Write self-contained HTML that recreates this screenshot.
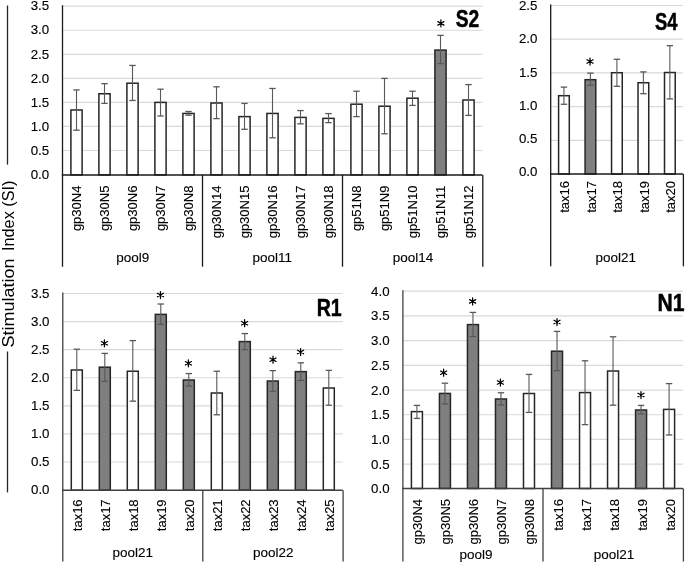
<!DOCTYPE html>
<html><head><meta charset="utf-8"><style>
html,body{margin:0;padding:0;background:#fff;}
svg{display:block;font-family:"Liberation Sans", sans-serif;will-change:transform;}
</style></head><body>
<svg width="685" height="563" viewBox="0 0 685 563">
<rect width="685" height="563" fill="#fff"/>
<line x1="62.50" y1="150.50" x2="482.50" y2="150.50" stroke="#d9d9d9" stroke-width="1.2"/>
<line x1="62.50" y1="126.45" x2="482.50" y2="126.45" stroke="#d9d9d9" stroke-width="1.2"/>
<line x1="62.50" y1="102.40" x2="482.50" y2="102.40" stroke="#d9d9d9" stroke-width="1.2"/>
<line x1="62.50" y1="78.35" x2="482.50" y2="78.35" stroke="#d9d9d9" stroke-width="1.2"/>
<line x1="62.50" y1="54.30" x2="482.50" y2="54.30" stroke="#d9d9d9" stroke-width="1.2"/>
<line x1="62.50" y1="30.25" x2="482.50" y2="30.25" stroke="#d9d9d9" stroke-width="1.2"/>
<line x1="62.50" y1="6.20" x2="482.50" y2="6.20" stroke="#d9d9d9" stroke-width="1.2"/>
<text x="49.20" y="178.75" text-anchor="end" font-size="13.3" fill="#000" stroke="#000" stroke-width="0.12">0.0</text>
<text x="49.20" y="154.70" text-anchor="end" font-size="13.3" fill="#000" stroke="#000" stroke-width="0.12">0.5</text>
<text x="49.20" y="130.65" text-anchor="end" font-size="13.3" fill="#000" stroke="#000" stroke-width="0.12">1.0</text>
<text x="49.20" y="106.60" text-anchor="end" font-size="13.3" fill="#000" stroke="#000" stroke-width="0.12">1.5</text>
<text x="49.20" y="82.55" text-anchor="end" font-size="13.3" fill="#000" stroke="#000" stroke-width="0.12">2.0</text>
<text x="49.20" y="58.50" text-anchor="end" font-size="13.3" fill="#000" stroke="#000" stroke-width="0.12">2.5</text>
<text x="49.20" y="34.45" text-anchor="end" font-size="13.3" fill="#000" stroke="#000" stroke-width="0.12">3.0</text>
<text x="49.20" y="10.40" text-anchor="end" font-size="13.3" fill="#000" stroke="#000" stroke-width="0.12">3.5</text>
<rect x="70.90" y="109.98" width="11.20" height="64.92" fill="#fff" stroke="#262626" stroke-width="1.5"/>
<rect x="98.90" y="93.76" width="11.20" height="81.14" fill="#fff" stroke="#262626" stroke-width="1.5"/>
<rect x="126.90" y="83.20" width="11.20" height="91.70" fill="#fff" stroke="#262626" stroke-width="1.5"/>
<rect x="154.90" y="102.40" width="11.20" height="72.50" fill="#fff" stroke="#262626" stroke-width="1.5"/>
<rect x="182.90" y="113.44" width="11.20" height="61.46" fill="#fff" stroke="#262626" stroke-width="1.5"/>
<rect x="210.90" y="103.00" width="11.20" height="71.90" fill="#fff" stroke="#262626" stroke-width="1.5"/>
<rect x="238.90" y="116.61" width="11.20" height="58.29" fill="#fff" stroke="#262626" stroke-width="1.5"/>
<rect x="266.90" y="113.44" width="11.20" height="61.46" fill="#fff" stroke="#262626" stroke-width="1.5"/>
<rect x="294.90" y="117.40" width="11.20" height="57.50" fill="#fff" stroke="#262626" stroke-width="1.5"/>
<rect x="322.90" y="118.38" width="11.20" height="56.52" fill="#fff" stroke="#262626" stroke-width="1.5"/>
<rect x="350.90" y="104.20" width="11.20" height="70.70" fill="#fff" stroke="#262626" stroke-width="1.5"/>
<rect x="378.90" y="106.24" width="11.20" height="68.66" fill="#fff" stroke="#262626" stroke-width="1.5"/>
<rect x="406.90" y="98.20" width="11.20" height="76.70" fill="#fff" stroke="#262626" stroke-width="1.5"/>
<rect x="434.90" y="50.08" width="11.20" height="124.82" fill="#7f7f7f" stroke="#262626" stroke-width="1.5"/>
<rect x="462.90" y="100.00" width="11.20" height="74.90" fill="#fff" stroke="#262626" stroke-width="1.5"/>
<line x1="76.50" y1="89.92" x2="76.50" y2="130.19" stroke="#595959" stroke-width="1.1"/>
<line x1="73.30" y1="89.92" x2="79.70" y2="89.92" stroke="#595959" stroke-width="1.3"/>
<line x1="73.30" y1="130.19" x2="79.70" y2="130.19" stroke="#595959" stroke-width="1.3"/>
<line x1="104.50" y1="83.68" x2="104.50" y2="103.36" stroke="#595959" stroke-width="1.1"/>
<line x1="101.30" y1="83.68" x2="107.70" y2="83.68" stroke="#595959" stroke-width="1.3"/>
<line x1="101.30" y1="103.36" x2="107.70" y2="103.36" stroke="#595959" stroke-width="1.3"/>
<line x1="132.50" y1="65.44" x2="132.50" y2="100.48" stroke="#595959" stroke-width="1.1"/>
<line x1="129.30" y1="65.44" x2="135.70" y2="65.44" stroke="#595959" stroke-width="1.3"/>
<line x1="129.30" y1="100.48" x2="135.70" y2="100.48" stroke="#595959" stroke-width="1.3"/>
<line x1="160.50" y1="89.20" x2="160.50" y2="115.98" stroke="#595959" stroke-width="1.1"/>
<line x1="157.30" y1="89.20" x2="163.70" y2="89.20" stroke="#595959" stroke-width="1.3"/>
<line x1="157.30" y1="115.98" x2="163.70" y2="115.98" stroke="#595959" stroke-width="1.3"/>
<line x1="188.50" y1="111.52" x2="188.50" y2="115.22" stroke="#595959" stroke-width="1.1"/>
<line x1="185.30" y1="111.52" x2="191.70" y2="111.52" stroke="#595959" stroke-width="1.3"/>
<line x1="185.30" y1="115.22" x2="191.70" y2="115.22" stroke="#595959" stroke-width="1.3"/>
<line x1="216.50" y1="86.80" x2="216.50" y2="118.60" stroke="#595959" stroke-width="1.1"/>
<line x1="213.30" y1="86.80" x2="219.70" y2="86.80" stroke="#595959" stroke-width="1.3"/>
<line x1="213.30" y1="118.60" x2="219.70" y2="118.60" stroke="#595959" stroke-width="1.3"/>
<line x1="244.50" y1="103.41" x2="244.50" y2="129.28" stroke="#595959" stroke-width="1.1"/>
<line x1="241.30" y1="103.41" x2="247.70" y2="103.41" stroke="#595959" stroke-width="1.3"/>
<line x1="241.30" y1="129.28" x2="247.70" y2="129.28" stroke="#595959" stroke-width="1.3"/>
<line x1="272.50" y1="88.48" x2="272.50" y2="137.80" stroke="#595959" stroke-width="1.1"/>
<line x1="269.30" y1="88.48" x2="275.70" y2="88.48" stroke="#595959" stroke-width="1.3"/>
<line x1="269.30" y1="137.80" x2="275.70" y2="137.80" stroke="#595959" stroke-width="1.3"/>
<line x1="300.50" y1="110.56" x2="300.50" y2="123.81" stroke="#595959" stroke-width="1.1"/>
<line x1="297.30" y1="110.56" x2="303.70" y2="110.56" stroke="#595959" stroke-width="1.3"/>
<line x1="297.30" y1="123.81" x2="303.70" y2="123.81" stroke="#595959" stroke-width="1.3"/>
<line x1="328.50" y1="113.58" x2="328.50" y2="122.61" stroke="#595959" stroke-width="1.1"/>
<line x1="325.30" y1="113.58" x2="331.70" y2="113.58" stroke="#595959" stroke-width="1.3"/>
<line x1="325.30" y1="122.61" x2="331.70" y2="122.61" stroke="#595959" stroke-width="1.3"/>
<line x1="356.50" y1="91.22" x2="356.50" y2="116.61" stroke="#595959" stroke-width="1.1"/>
<line x1="353.30" y1="91.22" x2="359.70" y2="91.22" stroke="#595959" stroke-width="1.3"/>
<line x1="353.30" y1="116.61" x2="359.70" y2="116.61" stroke="#595959" stroke-width="1.3"/>
<line x1="384.50" y1="78.40" x2="384.50" y2="133.79" stroke="#595959" stroke-width="1.1"/>
<line x1="381.30" y1="78.40" x2="387.70" y2="78.40" stroke="#595959" stroke-width="1.3"/>
<line x1="381.30" y1="133.79" x2="387.70" y2="133.79" stroke="#595959" stroke-width="1.3"/>
<line x1="412.50" y1="91.22" x2="412.50" y2="105.40" stroke="#595959" stroke-width="1.1"/>
<line x1="409.30" y1="91.22" x2="415.70" y2="91.22" stroke="#595959" stroke-width="1.3"/>
<line x1="409.30" y1="105.40" x2="415.70" y2="105.40" stroke="#595959" stroke-width="1.3"/>
<line x1="440.50" y1="35.39" x2="440.50" y2="63.62" stroke="#595959" stroke-width="1.1"/>
<line x1="437.30" y1="35.39" x2="443.70" y2="35.39" stroke="#595959" stroke-width="1.3"/>
<line x1="437.30" y1="63.62" x2="443.70" y2="63.62" stroke="#595959" stroke-width="1.3"/>
<line x1="468.50" y1="84.59" x2="468.50" y2="115.41" stroke="#595959" stroke-width="1.1"/>
<line x1="465.30" y1="84.59" x2="471.70" y2="84.59" stroke="#595959" stroke-width="1.3"/>
<line x1="465.30" y1="115.41" x2="471.70" y2="115.41" stroke="#595959" stroke-width="1.3"/>
<line x1="62.50" y1="5.30" x2="62.50" y2="266.70" stroke="#1a1a1a" stroke-width="1.3"/>
<line x1="61.85" y1="174.90" x2="482.50" y2="174.90" stroke="#1a1a1a" stroke-width="1.5"/>
<line x1="202.50" y1="174.90" x2="202.50" y2="266.70" stroke="#1a1a1a" stroke-width="1.3"/>
<line x1="342.50" y1="174.90" x2="342.50" y2="266.70" stroke="#1a1a1a" stroke-width="1.3"/>
<line x1="482.80" y1="174.90" x2="482.80" y2="266.70" stroke="#1a1a1a" stroke-width="1.3"/>
<text transform="translate(81.30,185.60) rotate(-90)" text-anchor="end" font-size="13.7" textLength="45.53" lengthAdjust="spacingAndGlyphs" fill="#000" stroke="#000" stroke-width="0.12">gp30N4</text>
<text transform="translate(109.30,185.60) rotate(-90)" text-anchor="end" font-size="13.7" textLength="45.53" lengthAdjust="spacingAndGlyphs" fill="#000" stroke="#000" stroke-width="0.12">gp30N5</text>
<text transform="translate(137.30,185.60) rotate(-90)" text-anchor="end" font-size="13.7" textLength="45.53" lengthAdjust="spacingAndGlyphs" fill="#000" stroke="#000" stroke-width="0.12">gp30N6</text>
<text transform="translate(165.30,185.60) rotate(-90)" text-anchor="end" font-size="13.7" textLength="45.53" lengthAdjust="spacingAndGlyphs" fill="#000" stroke="#000" stroke-width="0.12">gp30N7</text>
<text transform="translate(193.30,185.60) rotate(-90)" text-anchor="end" font-size="13.7" textLength="45.53" lengthAdjust="spacingAndGlyphs" fill="#000" stroke="#000" stroke-width="0.12">gp30N8</text>
<text transform="translate(221.30,185.60) rotate(-90)" text-anchor="end" font-size="13.7" textLength="52.75" lengthAdjust="spacingAndGlyphs" fill="#000" stroke="#000" stroke-width="0.12">gp30N14</text>
<text transform="translate(249.30,185.60) rotate(-90)" text-anchor="end" font-size="13.7" textLength="52.75" lengthAdjust="spacingAndGlyphs" fill="#000" stroke="#000" stroke-width="0.12">gp30N15</text>
<text transform="translate(277.30,185.60) rotate(-90)" text-anchor="end" font-size="13.7" textLength="52.75" lengthAdjust="spacingAndGlyphs" fill="#000" stroke="#000" stroke-width="0.12">gp30N16</text>
<text transform="translate(305.30,185.60) rotate(-90)" text-anchor="end" font-size="13.7" textLength="52.75" lengthAdjust="spacingAndGlyphs" fill="#000" stroke="#000" stroke-width="0.12">gp30N17</text>
<text transform="translate(333.30,185.60) rotate(-90)" text-anchor="end" font-size="13.7" textLength="52.75" lengthAdjust="spacingAndGlyphs" fill="#000" stroke="#000" stroke-width="0.12">gp30N18</text>
<text transform="translate(361.30,185.60) rotate(-90)" text-anchor="end" font-size="13.7" textLength="45.53" lengthAdjust="spacingAndGlyphs" fill="#000" stroke="#000" stroke-width="0.12">gp51N8</text>
<text transform="translate(389.30,185.60) rotate(-90)" text-anchor="end" font-size="13.7" textLength="45.53" lengthAdjust="spacingAndGlyphs" fill="#000" stroke="#000" stroke-width="0.12">gp51N9</text>
<text transform="translate(417.30,185.60) rotate(-90)" text-anchor="end" font-size="13.7" textLength="52.75" lengthAdjust="spacingAndGlyphs" fill="#000" stroke="#000" stroke-width="0.12">gp51N10</text>
<text transform="translate(445.30,185.60) rotate(-90)" text-anchor="end" font-size="13.7" textLength="52.75" lengthAdjust="spacingAndGlyphs" fill="#000" stroke="#000" stroke-width="0.12">gp51N11</text>
<text transform="translate(473.30,185.60) rotate(-90)" text-anchor="end" font-size="13.7" textLength="52.75" lengthAdjust="spacingAndGlyphs" fill="#000" stroke="#000" stroke-width="0.12">gp51N12</text>
<text x="132.80" y="262.40" text-anchor="middle" font-size="13.5" fill="#000" stroke="#000" stroke-width="0.12">pool9</text>
<text x="272.30" y="262.40" text-anchor="middle" font-size="13.5" fill="#000" stroke="#000" stroke-width="0.12">pool11</text>
<text x="412.90" y="262.40" text-anchor="middle" font-size="13.5" fill="#000" stroke="#000" stroke-width="0.12">pool14</text>
<path d="M440.90 26.85L440.90 19.85M437.87 25.10L443.93 21.60M443.93 25.10L437.87 21.60" stroke="#000" stroke-width="1.25" stroke-linecap="round" fill="none"/>
<circle cx="440.90" cy="23.35" r="1.2" fill="#000"/>
<text x="455.80" y="26.60" font-size="24" font-weight="bold" fill="#000" stroke="#000" stroke-width="0.5" textLength="23.5" lengthAdjust="spacingAndGlyphs">S2</text>
<line x1="550.70" y1="140.30" x2="683.10" y2="140.30" stroke="#d9d9d9" stroke-width="1.2"/>
<line x1="550.70" y1="106.60" x2="683.10" y2="106.60" stroke="#d9d9d9" stroke-width="1.2"/>
<line x1="550.70" y1="72.90" x2="683.10" y2="72.90" stroke="#d9d9d9" stroke-width="1.2"/>
<line x1="550.70" y1="39.20" x2="683.10" y2="39.20" stroke="#d9d9d9" stroke-width="1.2"/>
<line x1="550.70" y1="5.50" x2="683.10" y2="5.50" stroke="#d9d9d9" stroke-width="1.2"/>
<text x="537.40" y="175.80" text-anchor="end" font-size="13.3" fill="#000" stroke="#000" stroke-width="0.12">0.0</text>
<text x="537.40" y="142.70" text-anchor="end" font-size="13.3" fill="#000" stroke="#000" stroke-width="0.12">0.5</text>
<text x="537.40" y="109.60" text-anchor="end" font-size="13.3" fill="#000" stroke="#000" stroke-width="0.12">1.0</text>
<text x="537.40" y="76.50" text-anchor="end" font-size="13.3" fill="#000" stroke="#000" stroke-width="0.12">1.5</text>
<text x="537.40" y="43.40" text-anchor="end" font-size="13.3" fill="#000" stroke="#000" stroke-width="0.12">2.0</text>
<text x="537.40" y="10.30" text-anchor="end" font-size="13.3" fill="#000" stroke="#000" stroke-width="0.12">2.5</text>
<rect x="558.59" y="95.71" width="10.70" height="78.29" fill="#fff" stroke="#262626" stroke-width="1.5"/>
<rect x="585.07" y="79.69" width="10.70" height="94.31" fill="#7f7f7f" stroke="#262626" stroke-width="1.5"/>
<rect x="611.55" y="72.72" width="10.70" height="101.28" fill="#fff" stroke="#262626" stroke-width="1.5"/>
<rect x="638.03" y="82.73" width="10.70" height="91.27" fill="#fff" stroke="#262626" stroke-width="1.5"/>
<rect x="664.51" y="72.52" width="10.70" height="101.48" fill="#fff" stroke="#262626" stroke-width="1.5"/>
<line x1="563.94" y1="87.12" x2="563.94" y2="104.29" stroke="#595959" stroke-width="1.1"/>
<line x1="560.74" y1="87.12" x2="567.14" y2="87.12" stroke="#595959" stroke-width="1.3"/>
<line x1="560.74" y1="104.29" x2="567.14" y2="104.29" stroke="#595959" stroke-width="1.3"/>
<line x1="590.42" y1="73.13" x2="590.42" y2="85.30" stroke="#595959" stroke-width="1.1"/>
<line x1="587.22" y1="73.13" x2="593.62" y2="73.13" stroke="#595959" stroke-width="1.3"/>
<line x1="587.22" y1="85.30" x2="593.62" y2="85.30" stroke="#595959" stroke-width="1.3"/>
<line x1="616.90" y1="59.27" x2="616.90" y2="86.31" stroke="#595959" stroke-width="1.1"/>
<line x1="613.70" y1="59.27" x2="620.10" y2="59.27" stroke="#595959" stroke-width="1.3"/>
<line x1="613.70" y1="86.31" x2="620.10" y2="86.31" stroke="#595959" stroke-width="1.3"/>
<line x1="643.38" y1="71.91" x2="643.38" y2="93.68" stroke="#595959" stroke-width="1.1"/>
<line x1="640.18" y1="71.91" x2="646.58" y2="71.91" stroke="#595959" stroke-width="1.3"/>
<line x1="640.18" y1="93.68" x2="646.58" y2="93.68" stroke="#595959" stroke-width="1.3"/>
<line x1="669.86" y1="45.68" x2="669.86" y2="98.89" stroke="#595959" stroke-width="1.1"/>
<line x1="666.66" y1="45.68" x2="673.06" y2="45.68" stroke="#595959" stroke-width="1.3"/>
<line x1="666.66" y1="98.89" x2="673.06" y2="98.89" stroke="#595959" stroke-width="1.3"/>
<line x1="550.70" y1="4.60" x2="550.70" y2="266.30" stroke="#1a1a1a" stroke-width="1.3"/>
<line x1="550.05" y1="174.00" x2="683.10" y2="174.00" stroke="#1a1a1a" stroke-width="1.5"/>
<line x1="683.40" y1="174.00" x2="683.40" y2="266.30" stroke="#1a1a1a" stroke-width="1.3"/>
<text transform="translate(569.14,181.00) rotate(-90)" text-anchor="end" font-size="13.7" textLength="31.80" lengthAdjust="spacingAndGlyphs" fill="#000" stroke="#000" stroke-width="0.12">tax16</text>
<text transform="translate(595.62,181.00) rotate(-90)" text-anchor="end" font-size="13.7" textLength="31.80" lengthAdjust="spacingAndGlyphs" fill="#000" stroke="#000" stroke-width="0.12">tax17</text>
<text transform="translate(622.10,181.00) rotate(-90)" text-anchor="end" font-size="13.7" textLength="31.80" lengthAdjust="spacingAndGlyphs" fill="#000" stroke="#000" stroke-width="0.12">tax18</text>
<text transform="translate(648.58,181.00) rotate(-90)" text-anchor="end" font-size="13.7" textLength="31.80" lengthAdjust="spacingAndGlyphs" fill="#000" stroke="#000" stroke-width="0.12">tax19</text>
<text transform="translate(675.06,181.00) rotate(-90)" text-anchor="end" font-size="13.7" textLength="31.80" lengthAdjust="spacingAndGlyphs" fill="#000" stroke="#000" stroke-width="0.12">tax20</text>
<text x="615.70" y="262.00" text-anchor="middle" font-size="13.5" fill="#000" stroke="#000" stroke-width="0.12">pool21</text>
<path d="M590.00 65.00L590.00 58.00M586.97 63.25L593.03 59.75M593.03 63.25L586.97 59.75" stroke="#000" stroke-width="1.25" stroke-linecap="round" fill="none"/>
<circle cx="590.00" cy="61.50" r="1.2" fill="#000"/>
<text x="655.10" y="29.80" font-size="24" font-weight="bold" fill="#000" stroke="#000" stroke-width="0.5" textLength="22.5" lengthAdjust="spacingAndGlyphs">S4</text>
<line x1="62.80" y1="462.02" x2="342.80" y2="462.02" stroke="#d9d9d9" stroke-width="1.2"/>
<line x1="62.80" y1="433.93" x2="342.80" y2="433.93" stroke="#d9d9d9" stroke-width="1.2"/>
<line x1="62.80" y1="405.85" x2="342.80" y2="405.85" stroke="#d9d9d9" stroke-width="1.2"/>
<line x1="62.80" y1="377.76" x2="342.80" y2="377.76" stroke="#d9d9d9" stroke-width="1.2"/>
<line x1="62.80" y1="349.68" x2="342.80" y2="349.68" stroke="#d9d9d9" stroke-width="1.2"/>
<line x1="62.80" y1="321.59" x2="342.80" y2="321.59" stroke="#d9d9d9" stroke-width="1.2"/>
<line x1="62.80" y1="293.50" x2="342.80" y2="293.50" stroke="#d9d9d9" stroke-width="1.2"/>
<text x="49.50" y="494.10" text-anchor="end" font-size="13.3" fill="#000" stroke="#000" stroke-width="0.12">0.0</text>
<text x="49.50" y="466.02" text-anchor="end" font-size="13.3" fill="#000" stroke="#000" stroke-width="0.12">0.5</text>
<text x="49.50" y="437.93" text-anchor="end" font-size="13.3" fill="#000" stroke="#000" stroke-width="0.12">1.0</text>
<text x="49.50" y="409.85" text-anchor="end" font-size="13.3" fill="#000" stroke="#000" stroke-width="0.12">1.5</text>
<text x="49.50" y="381.76" text-anchor="end" font-size="13.3" fill="#000" stroke="#000" stroke-width="0.12">2.0</text>
<text x="49.50" y="353.68" text-anchor="end" font-size="13.3" fill="#000" stroke="#000" stroke-width="0.12">2.5</text>
<text x="49.50" y="325.59" text-anchor="end" font-size="13.3" fill="#000" stroke="#000" stroke-width="0.12">3.0</text>
<text x="49.50" y="297.50" text-anchor="end" font-size="13.3" fill="#000" stroke="#000" stroke-width="0.12">3.5</text>
<rect x="71.30" y="369.99" width="11.00" height="120.21" fill="#fff" stroke="#262626" stroke-width="1.5"/>
<rect x="99.30" y="367.19" width="11.00" height="123.01" fill="#7f7f7f" stroke="#262626" stroke-width="1.5"/>
<rect x="127.30" y="371.22" width="11.00" height="118.98" fill="#fff" stroke="#262626" stroke-width="1.5"/>
<rect x="155.30" y="314.38" width="11.00" height="175.82" fill="#7f7f7f" stroke="#262626" stroke-width="1.5"/>
<rect x="183.30" y="380.02" width="11.00" height="110.18" fill="#7f7f7f" stroke="#262626" stroke-width="1.5"/>
<rect x="211.30" y="393.01" width="11.00" height="97.19" fill="#fff" stroke="#262626" stroke-width="1.5"/>
<rect x="239.30" y="341.60" width="11.00" height="148.60" fill="#7f7f7f" stroke="#262626" stroke-width="1.5"/>
<rect x="267.30" y="381.02" width="11.00" height="109.18" fill="#7f7f7f" stroke="#262626" stroke-width="1.5"/>
<rect x="295.30" y="371.62" width="11.00" height="118.58" fill="#7f7f7f" stroke="#262626" stroke-width="1.5"/>
<rect x="323.30" y="388.02" width="11.00" height="102.18" fill="#fff" stroke="#262626" stroke-width="1.5"/>
<line x1="76.80" y1="349.22" x2="76.80" y2="390.38" stroke="#595959" stroke-width="1.1"/>
<line x1="73.60" y1="349.22" x2="80.00" y2="349.22" stroke="#595959" stroke-width="1.3"/>
<line x1="73.60" y1="390.38" x2="80.00" y2="390.38" stroke="#595959" stroke-width="1.3"/>
<line x1="104.80" y1="353.42" x2="104.80" y2="381.42" stroke="#595959" stroke-width="1.1"/>
<line x1="101.60" y1="353.42" x2="108.00" y2="353.42" stroke="#595959" stroke-width="1.3"/>
<line x1="101.60" y1="381.42" x2="108.00" y2="381.42" stroke="#595959" stroke-width="1.3"/>
<line x1="132.80" y1="340.59" x2="132.80" y2="401.18" stroke="#595959" stroke-width="1.1"/>
<line x1="129.60" y1="340.59" x2="136.00" y2="340.59" stroke="#595959" stroke-width="1.3"/>
<line x1="129.60" y1="401.18" x2="136.00" y2="401.18" stroke="#595959" stroke-width="1.3"/>
<line x1="160.80" y1="304.02" x2="160.80" y2="324.41" stroke="#595959" stroke-width="1.1"/>
<line x1="157.60" y1="304.02" x2="164.00" y2="304.02" stroke="#595959" stroke-width="1.3"/>
<line x1="157.60" y1="324.41" x2="164.00" y2="324.41" stroke="#595959" stroke-width="1.3"/>
<line x1="188.80" y1="373.58" x2="188.80" y2="386.01" stroke="#595959" stroke-width="1.1"/>
<line x1="185.60" y1="373.58" x2="192.00" y2="373.58" stroke="#595959" stroke-width="1.3"/>
<line x1="185.60" y1="386.01" x2="192.00" y2="386.01" stroke="#595959" stroke-width="1.3"/>
<line x1="216.80" y1="371.22" x2="216.80" y2="414.79" stroke="#595959" stroke-width="1.1"/>
<line x1="213.60" y1="371.22" x2="220.00" y2="371.22" stroke="#595959" stroke-width="1.3"/>
<line x1="213.60" y1="414.79" x2="220.00" y2="414.79" stroke="#595959" stroke-width="1.3"/>
<line x1="244.80" y1="333.59" x2="244.80" y2="349.61" stroke="#595959" stroke-width="1.1"/>
<line x1="241.60" y1="333.59" x2="248.00" y2="333.59" stroke="#595959" stroke-width="1.3"/>
<line x1="241.60" y1="349.61" x2="248.00" y2="349.61" stroke="#595959" stroke-width="1.3"/>
<line x1="272.80" y1="370.61" x2="272.80" y2="391.38" stroke="#595959" stroke-width="1.1"/>
<line x1="269.60" y1="370.61" x2="276.00" y2="370.61" stroke="#595959" stroke-width="1.3"/>
<line x1="269.60" y1="391.38" x2="276.00" y2="391.38" stroke="#595959" stroke-width="1.3"/>
<line x1="300.80" y1="362.82" x2="300.80" y2="380.41" stroke="#595959" stroke-width="1.1"/>
<line x1="297.60" y1="362.82" x2="304.00" y2="362.82" stroke="#595959" stroke-width="1.3"/>
<line x1="297.60" y1="380.41" x2="304.00" y2="380.41" stroke="#595959" stroke-width="1.3"/>
<line x1="328.80" y1="370.38" x2="328.80" y2="405.22" stroke="#595959" stroke-width="1.1"/>
<line x1="325.60" y1="370.38" x2="332.00" y2="370.38" stroke="#595959" stroke-width="1.3"/>
<line x1="325.60" y1="405.22" x2="332.00" y2="405.22" stroke="#595959" stroke-width="1.3"/>
<line x1="62.80" y1="292.61" x2="62.80" y2="561.50" stroke="#404040" stroke-width="1.3"/>
<line x1="62.15" y1="490.20" x2="342.80" y2="490.20" stroke="#404040" stroke-width="1.5"/>
<line x1="202.80" y1="490.20" x2="202.80" y2="561.50" stroke="#404040" stroke-width="1.3"/>
<line x1="343.10" y1="490.20" x2="343.10" y2="561.50" stroke="#404040" stroke-width="1.3"/>
<text transform="translate(82.30,499.40) rotate(-90)" text-anchor="end" font-size="13.7" textLength="31.80" lengthAdjust="spacingAndGlyphs" fill="#000" stroke="#000" stroke-width="0.12">tax16</text>
<text transform="translate(110.30,499.40) rotate(-90)" text-anchor="end" font-size="13.7" textLength="31.80" lengthAdjust="spacingAndGlyphs" fill="#000" stroke="#000" stroke-width="0.12">tax17</text>
<text transform="translate(138.30,499.40) rotate(-90)" text-anchor="end" font-size="13.7" textLength="31.80" lengthAdjust="spacingAndGlyphs" fill="#000" stroke="#000" stroke-width="0.12">tax18</text>
<text transform="translate(166.30,499.40) rotate(-90)" text-anchor="end" font-size="13.7" textLength="31.80" lengthAdjust="spacingAndGlyphs" fill="#000" stroke="#000" stroke-width="0.12">tax19</text>
<text transform="translate(194.30,499.40) rotate(-90)" text-anchor="end" font-size="13.7" textLength="31.80" lengthAdjust="spacingAndGlyphs" fill="#000" stroke="#000" stroke-width="0.12">tax20</text>
<text transform="translate(222.30,499.40) rotate(-90)" text-anchor="end" font-size="13.7" textLength="31.80" lengthAdjust="spacingAndGlyphs" fill="#000" stroke="#000" stroke-width="0.12">tax21</text>
<text transform="translate(250.30,499.40) rotate(-90)" text-anchor="end" font-size="13.7" textLength="31.80" lengthAdjust="spacingAndGlyphs" fill="#000" stroke="#000" stroke-width="0.12">tax22</text>
<text transform="translate(278.30,499.40) rotate(-90)" text-anchor="end" font-size="13.7" textLength="31.80" lengthAdjust="spacingAndGlyphs" fill="#000" stroke="#000" stroke-width="0.12">tax23</text>
<text transform="translate(306.30,499.40) rotate(-90)" text-anchor="end" font-size="13.7" textLength="31.80" lengthAdjust="spacingAndGlyphs" fill="#000" stroke="#000" stroke-width="0.12">tax24</text>
<text transform="translate(334.30,499.40) rotate(-90)" text-anchor="end" font-size="13.7" textLength="31.80" lengthAdjust="spacingAndGlyphs" fill="#000" stroke="#000" stroke-width="0.12">tax25</text>
<text x="132.80" y="557.00" text-anchor="middle" font-size="13.5" fill="#000" stroke="#000" stroke-width="0.12">pool21</text>
<text x="273.20" y="557.00" text-anchor="middle" font-size="13.5" fill="#000" stroke="#000" stroke-width="0.12">pool22</text>
<path d="M104.40 346.80L104.40 339.80M101.37 345.05L107.43 341.55M107.43 345.05L101.37 341.55" stroke="#000" stroke-width="1.25" stroke-linecap="round" fill="none"/>
<circle cx="104.40" cy="343.30" r="1.2" fill="#000"/>
<path d="M160.45 298.50L160.45 291.50M157.42 296.75L163.48 293.25M163.48 296.75L157.42 293.25" stroke="#000" stroke-width="1.25" stroke-linecap="round" fill="none"/>
<circle cx="160.45" cy="295.00" r="1.2" fill="#000"/>
<path d="M188.40 366.80L188.40 359.80M185.37 365.05L191.43 361.55M191.43 365.05L185.37 361.55" stroke="#000" stroke-width="1.25" stroke-linecap="round" fill="none"/>
<circle cx="188.40" cy="363.30" r="1.2" fill="#000"/>
<path d="M244.60 326.70L244.60 319.70M241.57 324.95L247.63 321.45M247.63 324.95L241.57 321.45" stroke="#000" stroke-width="1.25" stroke-linecap="round" fill="none"/>
<circle cx="244.60" cy="323.20" r="1.2" fill="#000"/>
<path d="M273.00 363.20L273.00 356.20M269.97 361.45L276.03 357.95M276.03 361.45L269.97 357.95" stroke="#000" stroke-width="1.25" stroke-linecap="round" fill="none"/>
<circle cx="273.00" cy="359.70" r="1.2" fill="#000"/>
<path d="M300.60 355.50L300.60 348.50M297.57 353.75L303.63 350.25M303.63 353.75L297.57 350.25" stroke="#000" stroke-width="1.25" stroke-linecap="round" fill="none"/>
<circle cx="300.60" cy="352.00" r="1.2" fill="#000"/>
<text x="316.70" y="315.80" font-size="24" font-weight="bold" fill="#000" stroke="#000" stroke-width="0.5" textLength="25" lengthAdjust="spacingAndGlyphs">R1</text>
<line x1="402.90" y1="464.19" x2="683.10" y2="464.19" stroke="#d9d9d9" stroke-width="1.2"/>
<line x1="402.90" y1="439.47" x2="683.10" y2="439.47" stroke="#d9d9d9" stroke-width="1.2"/>
<line x1="402.90" y1="414.75" x2="683.10" y2="414.75" stroke="#d9d9d9" stroke-width="1.2"/>
<line x1="402.90" y1="390.04" x2="683.10" y2="390.04" stroke="#d9d9d9" stroke-width="1.2"/>
<line x1="402.90" y1="365.32" x2="683.10" y2="365.32" stroke="#d9d9d9" stroke-width="1.2"/>
<line x1="402.90" y1="340.61" x2="683.10" y2="340.61" stroke="#d9d9d9" stroke-width="1.2"/>
<line x1="402.90" y1="315.89" x2="683.10" y2="315.89" stroke="#d9d9d9" stroke-width="1.2"/>
<line x1="402.90" y1="291.18" x2="683.10" y2="291.18" stroke="#d9d9d9" stroke-width="1.2"/>
<text x="389.60" y="493.40" text-anchor="end" font-size="13.3" fill="#000" stroke="#000" stroke-width="0.12">0.0</text>
<text x="389.60" y="468.69" text-anchor="end" font-size="13.3" fill="#000" stroke="#000" stroke-width="0.12">0.5</text>
<text x="389.60" y="443.97" text-anchor="end" font-size="13.3" fill="#000" stroke="#000" stroke-width="0.12">1.0</text>
<text x="389.60" y="419.25" text-anchor="end" font-size="13.3" fill="#000" stroke="#000" stroke-width="0.12">1.5</text>
<text x="389.60" y="394.54" text-anchor="end" font-size="13.3" fill="#000" stroke="#000" stroke-width="0.12">2.0</text>
<text x="389.60" y="369.82" text-anchor="end" font-size="13.3" fill="#000" stroke="#000" stroke-width="0.12">2.5</text>
<text x="389.60" y="345.11" text-anchor="end" font-size="13.3" fill="#000" stroke="#000" stroke-width="0.12">3.0</text>
<text x="389.60" y="320.39" text-anchor="end" font-size="13.3" fill="#000" stroke="#000" stroke-width="0.12">3.5</text>
<text x="389.60" y="295.68" text-anchor="end" font-size="13.3" fill="#000" stroke="#000" stroke-width="0.12">4.0</text>
<rect x="411.41" y="411.62" width="11.00" height="76.88" fill="#fff" stroke="#262626" stroke-width="1.5"/>
<rect x="439.43" y="393.42" width="11.00" height="95.08" fill="#7f7f7f" stroke="#262626" stroke-width="1.5"/>
<rect x="467.45" y="324.58" width="11.00" height="163.92" fill="#7f7f7f" stroke="#262626" stroke-width="1.5"/>
<rect x="495.47" y="398.98" width="11.00" height="89.52" fill="#7f7f7f" stroke="#262626" stroke-width="1.5"/>
<rect x="523.49" y="393.52" width="11.00" height="94.98" fill="#fff" stroke="#262626" stroke-width="1.5"/>
<rect x="551.51" y="351.21" width="11.00" height="137.29" fill="#7f7f7f" stroke="#262626" stroke-width="1.5"/>
<rect x="579.53" y="392.58" width="11.00" height="95.92" fill="#fff" stroke="#262626" stroke-width="1.5"/>
<rect x="607.55" y="371.00" width="11.00" height="117.50" fill="#fff" stroke="#262626" stroke-width="1.5"/>
<rect x="635.57" y="409.99" width="11.00" height="78.51" fill="#7f7f7f" stroke="#262626" stroke-width="1.5"/>
<rect x="663.59" y="409.39" width="11.00" height="79.11" fill="#fff" stroke="#262626" stroke-width="1.5"/>
<line x1="416.91" y1="405.42" x2="416.91" y2="418.42" stroke="#595959" stroke-width="1.1"/>
<line x1="413.71" y1="405.42" x2="420.11" y2="405.42" stroke="#595959" stroke-width="1.3"/>
<line x1="413.71" y1="418.42" x2="420.11" y2="418.42" stroke="#595959" stroke-width="1.3"/>
<line x1="444.93" y1="383.20" x2="444.93" y2="403.99" stroke="#595959" stroke-width="1.1"/>
<line x1="441.73" y1="383.20" x2="448.13" y2="383.20" stroke="#595959" stroke-width="1.3"/>
<line x1="441.73" y1="403.99" x2="448.13" y2="403.99" stroke="#595959" stroke-width="1.3"/>
<line x1="472.95" y1="312.42" x2="472.95" y2="336.58" stroke="#595959" stroke-width="1.1"/>
<line x1="469.75" y1="312.42" x2="476.15" y2="312.42" stroke="#595959" stroke-width="1.3"/>
<line x1="469.75" y1="336.58" x2="476.15" y2="336.58" stroke="#595959" stroke-width="1.3"/>
<line x1="500.97" y1="392.78" x2="500.97" y2="404.98" stroke="#595959" stroke-width="1.1"/>
<line x1="497.77" y1="392.78" x2="504.17" y2="392.78" stroke="#595959" stroke-width="1.3"/>
<line x1="497.77" y1="404.98" x2="504.17" y2="404.98" stroke="#595959" stroke-width="1.3"/>
<line x1="528.99" y1="374.42" x2="528.99" y2="412.42" stroke="#595959" stroke-width="1.1"/>
<line x1="525.79" y1="374.42" x2="532.19" y2="374.42" stroke="#595959" stroke-width="1.3"/>
<line x1="525.79" y1="412.42" x2="532.19" y2="412.42" stroke="#595959" stroke-width="1.3"/>
<line x1="557.01" y1="331.42" x2="557.01" y2="370.60" stroke="#595959" stroke-width="1.1"/>
<line x1="553.81" y1="331.42" x2="560.21" y2="331.42" stroke="#595959" stroke-width="1.3"/>
<line x1="553.81" y1="370.60" x2="560.21" y2="370.60" stroke="#595959" stroke-width="1.3"/>
<line x1="585.03" y1="360.78" x2="585.03" y2="424.62" stroke="#595959" stroke-width="1.1"/>
<line x1="581.83" y1="360.78" x2="588.23" y2="360.78" stroke="#595959" stroke-width="1.3"/>
<line x1="581.83" y1="424.62" x2="588.23" y2="424.62" stroke="#595959" stroke-width="1.3"/>
<line x1="613.05" y1="336.78" x2="613.05" y2="405.18" stroke="#595959" stroke-width="1.1"/>
<line x1="609.85" y1="336.78" x2="616.25" y2="336.78" stroke="#595959" stroke-width="1.3"/>
<line x1="609.85" y1="405.18" x2="616.25" y2="405.18" stroke="#595959" stroke-width="1.3"/>
<line x1="641.07" y1="405.42" x2="641.07" y2="414.00" stroke="#595959" stroke-width="1.1"/>
<line x1="637.87" y1="405.42" x2="644.27" y2="405.42" stroke="#595959" stroke-width="1.3"/>
<line x1="637.87" y1="414.00" x2="644.27" y2="414.00" stroke="#595959" stroke-width="1.3"/>
<line x1="669.09" y1="383.60" x2="669.09" y2="434.99" stroke="#595959" stroke-width="1.1"/>
<line x1="665.89" y1="383.60" x2="672.29" y2="383.60" stroke="#595959" stroke-width="1.3"/>
<line x1="665.89" y1="434.99" x2="672.29" y2="434.99" stroke="#595959" stroke-width="1.3"/>
<line x1="402.90" y1="290.28" x2="402.90" y2="561.50" stroke="#404040" stroke-width="1.3"/>
<line x1="402.25" y1="488.50" x2="683.10" y2="488.50" stroke="#404040" stroke-width="1.5"/>
<line x1="543.00" y1="488.50" x2="543.00" y2="561.50" stroke="#404040" stroke-width="1.3"/>
<line x1="683.40" y1="488.50" x2="683.40" y2="561.50" stroke="#404040" stroke-width="1.3"/>
<text transform="translate(422.41,499.00) rotate(-90)" text-anchor="end" font-size="13.7" textLength="45.53" lengthAdjust="spacingAndGlyphs" fill="#000" stroke="#000" stroke-width="0.12">gp30N4</text>
<text transform="translate(450.43,499.00) rotate(-90)" text-anchor="end" font-size="13.7" textLength="45.53" lengthAdjust="spacingAndGlyphs" fill="#000" stroke="#000" stroke-width="0.12">gp30N5</text>
<text transform="translate(478.45,499.00) rotate(-90)" text-anchor="end" font-size="13.7" textLength="45.53" lengthAdjust="spacingAndGlyphs" fill="#000" stroke="#000" stroke-width="0.12">gp30N6</text>
<text transform="translate(506.47,499.00) rotate(-90)" text-anchor="end" font-size="13.7" textLength="45.53" lengthAdjust="spacingAndGlyphs" fill="#000" stroke="#000" stroke-width="0.12">gp30N7</text>
<text transform="translate(534.49,499.00) rotate(-90)" text-anchor="end" font-size="13.7" textLength="45.53" lengthAdjust="spacingAndGlyphs" fill="#000" stroke="#000" stroke-width="0.12">gp30N8</text>
<text transform="translate(562.51,499.00) rotate(-90)" text-anchor="end" font-size="13.7" textLength="31.80" lengthAdjust="spacingAndGlyphs" fill="#000" stroke="#000" stroke-width="0.12">tax16</text>
<text transform="translate(590.53,499.00) rotate(-90)" text-anchor="end" font-size="13.7" textLength="31.80" lengthAdjust="spacingAndGlyphs" fill="#000" stroke="#000" stroke-width="0.12">tax17</text>
<text transform="translate(618.55,499.00) rotate(-90)" text-anchor="end" font-size="13.7" textLength="31.80" lengthAdjust="spacingAndGlyphs" fill="#000" stroke="#000" stroke-width="0.12">tax18</text>
<text transform="translate(646.57,499.00) rotate(-90)" text-anchor="end" font-size="13.7" textLength="31.80" lengthAdjust="spacingAndGlyphs" fill="#000" stroke="#000" stroke-width="0.12">tax19</text>
<text transform="translate(674.59,499.00) rotate(-90)" text-anchor="end" font-size="13.7" textLength="31.80" lengthAdjust="spacingAndGlyphs" fill="#000" stroke="#000" stroke-width="0.12">tax20</text>
<text x="476.05" y="559.00" text-anchor="middle" font-size="13.5" fill="#000" stroke="#000" stroke-width="0.12">pool9</text>
<text x="613.95" y="559.00" text-anchor="middle" font-size="13.5" fill="#000" stroke="#000" stroke-width="0.12">pool21</text>
<path d="M443.60 376.20L443.60 369.20M440.57 374.45L446.63 370.95M446.63 374.45L440.57 370.95" stroke="#000" stroke-width="1.25" stroke-linecap="round" fill="none"/>
<circle cx="443.60" cy="372.70" r="1.2" fill="#000"/>
<path d="M472.60 304.90L472.60 297.90M469.57 303.15L475.63 299.65M475.63 303.15L469.57 299.65" stroke="#000" stroke-width="1.25" stroke-linecap="round" fill="none"/>
<circle cx="472.60" cy="301.40" r="1.2" fill="#000"/>
<path d="M500.40 386.00L500.40 379.00M497.37 384.25L503.43 380.75M503.43 384.25L497.37 380.75" stroke="#000" stroke-width="1.25" stroke-linecap="round" fill="none"/>
<circle cx="500.40" cy="382.50" r="1.2" fill="#000"/>
<path d="M557.00 325.50L557.00 318.50M553.97 323.75L560.03 320.25M560.03 323.75L553.97 320.25" stroke="#000" stroke-width="1.25" stroke-linecap="round" fill="none"/>
<circle cx="557.00" cy="322.00" r="1.2" fill="#000"/>
<path d="M641.00 398.50L641.00 391.50M637.97 396.75L644.03 393.25M644.03 396.75L637.97 393.25" stroke="#000" stroke-width="1.25" stroke-linecap="round" fill="none"/>
<circle cx="641.00" cy="395.00" r="1.2" fill="#000"/>
<text x="657.50" y="311.00" font-size="24" font-weight="bold" fill="#000" stroke="#000" stroke-width="0.5" textLength="27" lengthAdjust="spacingAndGlyphs">N1</text>
<line x1="7.50" y1="5.50" x2="7.50" y2="164.60" stroke="#262626" stroke-width="1.3"/>
<line x1="7.50" y1="351.50" x2="7.50" y2="492.40" stroke="#262626" stroke-width="1.3"/>
<text transform="translate(14,347.5) rotate(-90)" text-anchor="start" font-size="17.4" fill="#000" textLength="89" lengthAdjust="spacingAndGlyphs">Stimulation</text>
<text transform="translate(14,180.5) rotate(-90)" text-anchor="end" font-size="17.4" fill="#000" textLength="70.5" lengthAdjust="spacingAndGlyphs">Index (SI)</text>
</svg>
</body></html>
